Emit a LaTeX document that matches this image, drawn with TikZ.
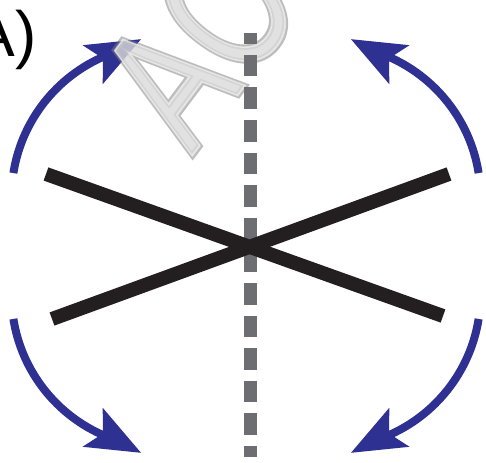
\documentclass[tikz,border=0pt]{standalone}
\usepackage{fontspec}
\setmainfont{Liberation Sans}
\newfontfamily\wmouter[FakeBold=3.5]{Liberation Sans}
\newfontfamily\wminner[FakeBold=1]{Liberation Sans}
\definecolor{arrowblue}{RGB}{46,49,146}
\definecolor{xblack}{RGB}{35,31,32}
\definecolor{dashgray}{RGB}{109,110,113}
\definecolor{wmedge}{RGB}{125,125,125}
\definecolor{wmcore}{RGB}{250,250,250}
\newcommand\myturnarrow{%
  \draw[turn] (ctr) ++(9:153pt) arc[start angle=9, end angle=67.5, radius=153pt];
  \fill[head] (351,422.8) -- (409.5,416.8) -- (389.1,403.6) -- (389.3,377.8) -- cycle;
}
\begin{document}
\begin{tikzpicture}[x=1pt,y=1pt,
  turn/.style={draw=arrowblue, line width=8pt},
  head/.style={fill=arrowblue},
  bar/.style={draw=xblack, line width=14pt},
  axisline/.style={draw=dashgray, line width=13pt, dash pattern=on 21.7pt off 10.9pt, dash phase=10.85pt},
  lbl/.style={anchor=base east, inner sep=0pt, outer sep=0pt, text=black, font=\fontsize{64}{64}\selectfont},
  wmark/.style={anchor=base west, inner sep=0pt, outer sep=0pt, rotate=53}]
\useasboundingbox (0,0) rectangle (486,462);
\fill[white] (0,0) rectangle (486,462);
% curved arrows
\coordinate (ctr) at (327.5,265);
\myturnarrow
\begin{scope}[shift={(492,0)}, xscale=-1]
  \coordinate (ctr) at (327.5,265);
  \myturnarrow
\end{scope}
\begin{scope}[shift={(0,432)}, yscale=-1]
  \coordinate (ctr) at (327.5,265);
  \myturnarrow
\end{scope}
\begin{scope}[shift={(492,432)}, xscale=-1, yscale=-1]
  \coordinate (ctr) at (327.5,265);
  \myturnarrow
\end{scope}
% watermark (two layers for the tube look)
\node[wmark, text=wmedge, text opacity=0.5, font=\wmouter\fontsize{182}{182}\selectfont] (wma) at (192,306) {\scalebox{0.73}[1]{AC}};
\node[wmark, text=wmcore, text opacity=0.6, font=\wminner\fontsize{182}{182}\selectfont] (wmb) at (192,306) {\scalebox{0.73}[1]{AC}};
% dashed axis
\coordinate (axtop) at (250.5,429);
\coordinate (axbot) at (250.5,5);
\draw[axisline] (axtop) -- (axbot);
% crossing bars
\coordinate (b1a) at (46,288);
\coordinate (b1b) at (443,146);
\coordinate (b2a) at (52,143);
\coordinate (b2b) at (449,288);
\draw[bar] (b1a) -- (b1b);
\draw[bar] (b2a) -- (b2b);
% label
\node[lbl] (label) at (37,405) {A)};
\end{tikzpicture}
\end{document}
